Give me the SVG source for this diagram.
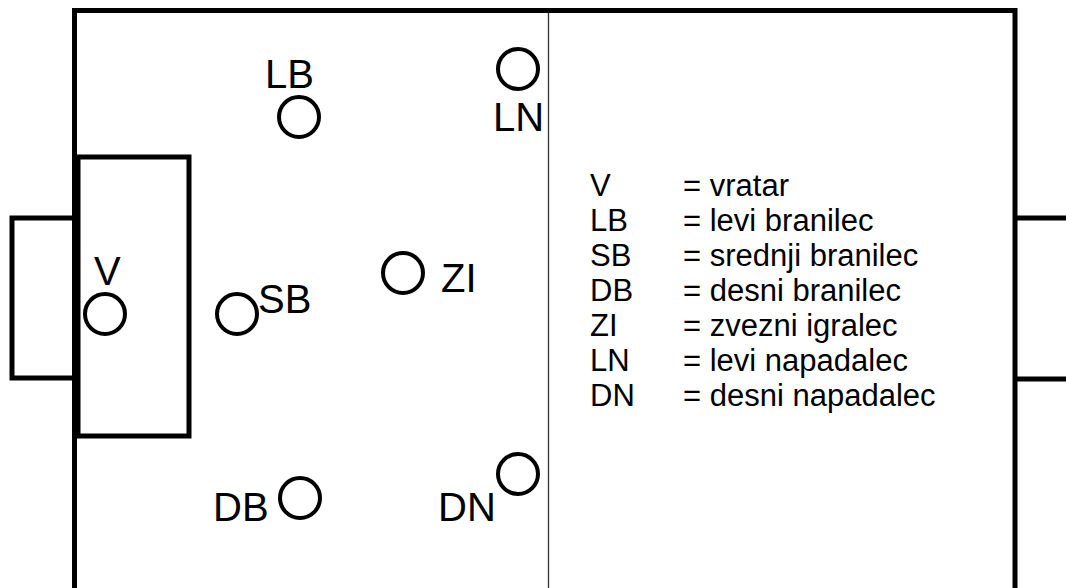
<svg xmlns="http://www.w3.org/2000/svg" width="1066" height="588" viewBox="0 0 1066 588">
<style>
.ln{fill:none;stroke:#000;stroke-width:5}
.pl{fill:none;stroke:#000;stroke-width:4}
.lbl{font-family:"Liberation Sans",Arial,sans-serif;font-size:40px;fill:#000}
.lg{font-family:"Liberation Sans",Arial,sans-serif;font-size:31px;fill:#000}
</style>
<rect width="1066" height="588" fill="#fff"/>
<g id="field">
<path class="ln" d="M74.5,588 V10.5 H1015 V588"/>
<rect class="ln" x="78" y="157" width="111" height="279"/>
<path class="ln" d="M74,218 H12 V378 H74"/>
<path class="ln" d="M1015,218 H1066 M1015,379 H1066"/>
<line x1="548.5" y1="13" x2="548.5" y2="588" stroke="#333" stroke-width="1.3"/>
</g>
<g id="players">
<g id="V"><circle class="pl" cx="105" cy="314" r="20"/><text class="lbl" x="94" y="285">V</text></g>
<g id="SB"><circle class="pl" cx="237" cy="314" r="20"/><text class="lbl" x="258" y="313">SB</text></g>
<g id="LB"><circle class="pl" cx="299" cy="117" r="20"/><text class="lbl" x="265" y="88">LB</text></g>
<g id="LN"><circle class="pl" cx="518" cy="69" r="20"/><text class="lbl" x="493" y="131">LN</text></g>
<g id="ZI"><circle class="pl" cx="403" cy="273" r="20"/><text class="lbl" x="441" y="292">ZI</text></g>
<g id="DB"><circle class="pl" cx="300" cy="498" r="20"/><text class="lbl" x="213" y="521">DB</text></g>
<g id="DN"><circle class="pl" cx="518" cy="474" r="20"/><text class="lbl" x="438" y="521">DN</text></g>
</g>
<g id="legend">
<text class="lg" x="590" y="196">V</text><text class="lg" x="683" y="196">= vratar</text>
<text class="lg" x="590" y="231">LB</text><text class="lg" x="683" y="231">= levi branilec</text>
<text class="lg" x="590" y="266">SB</text><text class="lg" x="683" y="266">= srednji branilec</text>
<text class="lg" x="590" y="301">DB</text><text class="lg" x="683" y="301">= desni branilec</text>
<text class="lg" x="590" y="336">ZI</text><text class="lg" x="683" y="336">= zvezni igralec</text>
<text class="lg" x="590" y="371">LN</text><text class="lg" x="683" y="371">= levi napadalec</text>
<text class="lg" x="590" y="406">DN</text><text class="lg" x="683" y="406">= desni napadalec</text>
</g>
</svg>
